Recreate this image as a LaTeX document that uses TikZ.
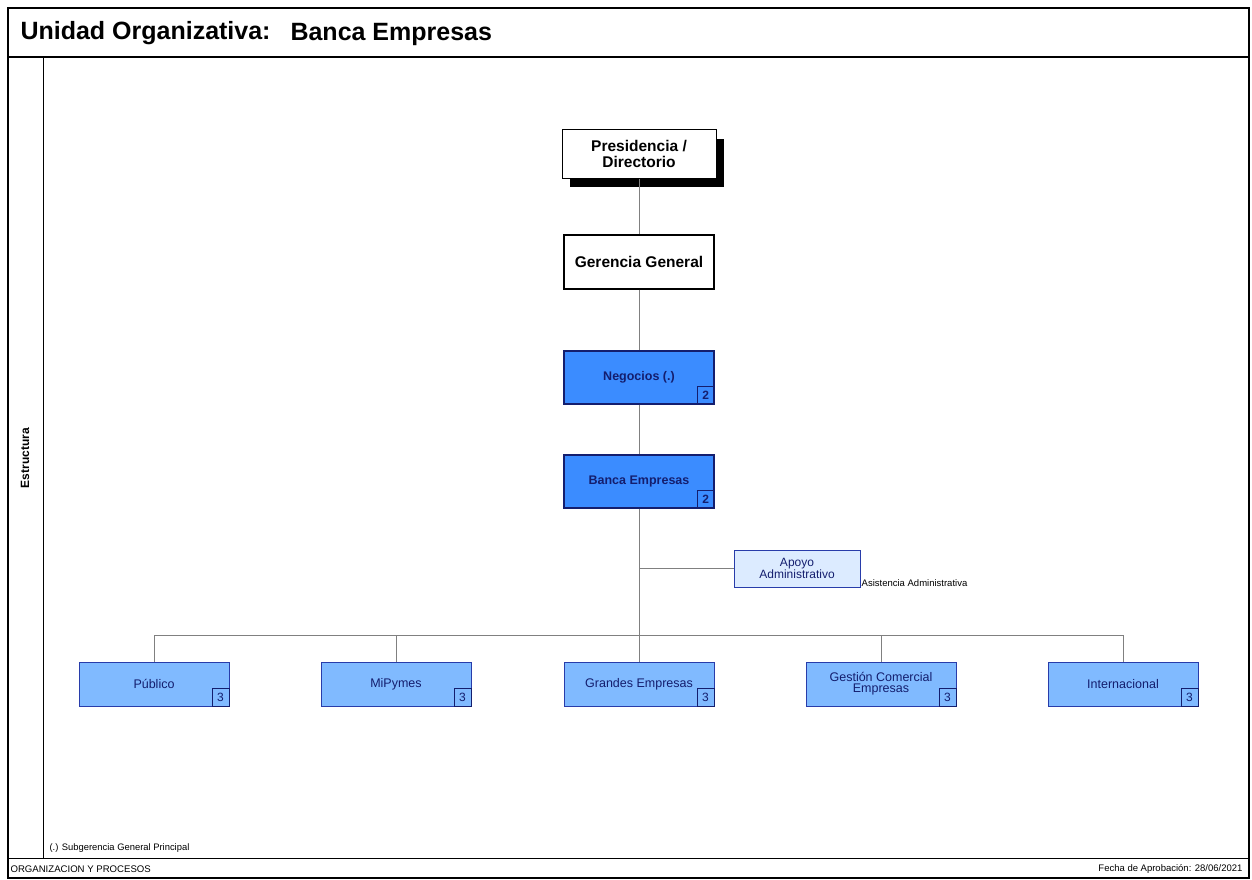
\documentclass[tikz,border=0pt]{standalone}
\usepackage{fontspec}
\setmainfont{Liberation Sans}
\usepackage{tikz}
\usetikzlibrary{positioning,shadows}
\definecolor{linkgray}{RGB}{128,128,128}
\definecolor{navy}{RGB}{20,30,110}
\definecolor{midblue}{RGB}{59,140,255}
\definecolor{lowblue}{RGB}{128,186,255}
\definecolor{paleblue}{RGB}{220,235,255}
\definecolor{boxline}{RGB}{40,60,170}
\tikzset{num box/.style={draw=navy,line width=1pt,fill=none,minimum width=17pt,minimum height=18pt,inner sep=0pt,anchor=south east,font=\fontsize{12}{12}\selectfont\bfseries,text=navy},
}

\begin{document}
\begin{tikzpicture}[x=1pt,y=-1pt,
top node/.style={draw=black,line width=1.4pt,fill=white,align=center,inner sep=0pt,font=\fontsize{15.5}{16}\selectfont\bfseries},
mid node/.style={draw=navy,line width=1.4pt,fill=midblue,text=navy,minimum width=150pt,minimum height=53pt,inner sep=0pt,font=\fontsize{12.5}{12}\selectfont\bfseries},
low node/.style={draw=boxline,line width=1pt,fill=lowblue,text=navy,minimum width=150pt,minimum height=44pt,inner sep=0pt,align=center,font=\fontsize{12.5}{11}\selectfont},
link/.style={draw=linkgray,line width=1pt}]

\useasboundingbox (0,0) rectangle (1252,880);
% frame
\draw[line width=1.5pt] (8,8) rectangle (1249,878);
\draw[line width=1.5pt] (8,57) -- (1249,57);
\draw[line width=1pt] (8,858) -- (1249,858);
\draw[line width=1pt] (43,57) -- (43,858);
\node[anchor=west,font=\fontsize{25}{25}\selectfont\bfseries] (unidad) at (17,33) {Unidad Organizativa:};
\node[anchor=west,font=\fontsize{25}{25}\selectfont\bfseries] (titulo) at (287,34) {Banca Empresas};
\node[rotate=90,font=\fontsize{12}{12}\selectfont\bfseries] (estructura) at (25,458) {Estructura};
\node[anchor=west,font=\fontsize{9.4}{9.4}\selectfont] (nota) at (46,848) {(.) Subgerencia General Principal};
\node[anchor=west,font=\fontsize{9.6}{9.6}\selectfont] (org) at (7,869) {ORGANIZACION Y PROCESOS};
\node[anchor=east,font=\fontsize{9.5}{9.5}\selectfont] (fecha) at (1246,869) {Fecha de Aprobación: 28/06/2021};

% upper chain
\node[top node,minimum width=154pt,minimum height=48pt,line width=1pt,
  drop shadow={shadow xshift=8pt,shadow yshift=-9pt,fill=black,opacity=1}] (pres) at (639,154) {Presidencia /\\Directorio};
\node[top node,minimum width=150pt,minimum height=54pt] (gg) at (639,262) {Gerencia General};
\node[mid node] (neg) at (639,377.5) {Negocios (.)};
\node[num box] at (neg.south east) {2};
\node[mid node] (banca) at (639,481.5) {Banca Empresas};
\node[num box] at (banca.south east) {2};

% staff
\node[draw=boxline,line width=1pt,fill=paleblue,text=navy,minimum width=126pt,minimum height=37pt,inner sep=0pt,align=center,font=\fontsize{12}{10.5}\selectfont] (apoyo) at (797,568.5) {Apoyo\\Administrativo};
\node[anchor=south west,inner sep=1pt,font=\fontsize{9.5}{9.5}\selectfont] (asist) at (apoyo.south east) {Asistencia Administrativa};

% lower level
\node[low node] (pub) at (154,684) {Público};
\node[num box,font=\fontsize{12}{12}\selectfont] at (pub.south east) {3};
\node[low node] (mipy) at (396,684) {MiPymes};
\node[num box,font=\fontsize{12}{12}\selectfont] at (mipy.south east) {3};
\node[low node] (grand) at (639,684) {Grandes Empresas};
\node[num box,font=\fontsize{12}{12}\selectfont] at (grand.south east) {3};
\node[low node] (gest) at (881,684) {Gestión Comercial\\Empresas};
\node[num box,font=\fontsize{12}{12}\selectfont] at (gest.south east) {3};
\node[low node] (inter) at (1123,684) {Internacional};
\node[num box,font=\fontsize{12}{12}\selectfont] at (inter.south east) {3};

% links
\coordinate (bus) at (639,635);
\path[link] (pres) -- (gg) (gg) -- (neg) (neg) -- (banca) (banca) -- (bus);
\path[link] (apoyo.west) -- (apoyo.west -| banca.south);
\path[link] (bus) -| (pub.north) (bus) -| (mipy.north) (bus) -- (grand.north)
  (bus) -| (gest.north) (bus) -| (inter.north);
\end{tikzpicture}
\end{document}
